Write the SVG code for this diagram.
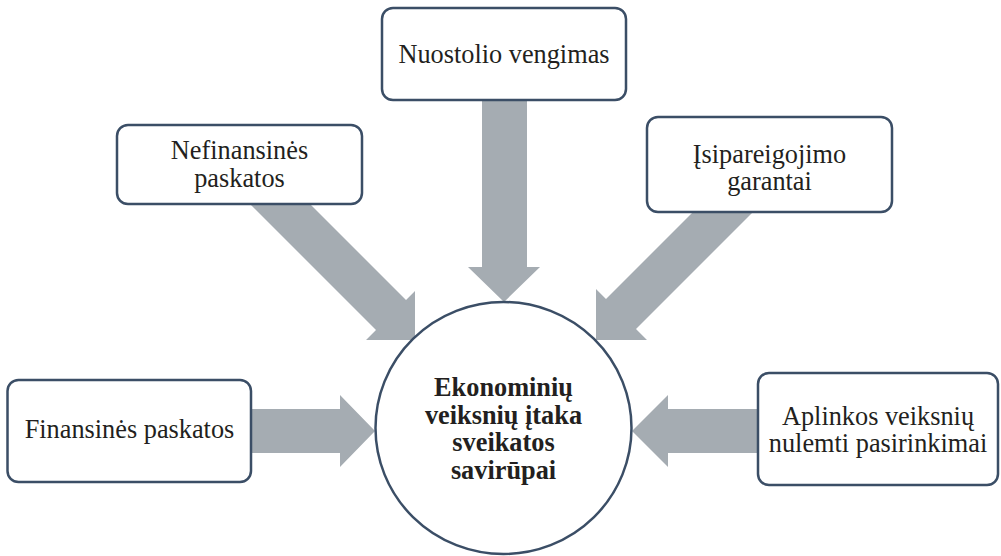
<svg xmlns="http://www.w3.org/2000/svg" width="1001" height="556" viewBox="0 0 1001 556">
  <style>
    .box { fill: #ffffff; stroke: #3b4e66; stroke-width: 2.5; }
    .hub { fill: #ffffff; stroke: #3b4e66; stroke-width: 2.5; }
    .arrow { fill: #a5acb2; stroke: none; }
    text { font-family: 'Liberation Serif', 'Times New Roman', Times, serif; font-size: 26.3px; fill: #231f20; text-anchor: middle; }
    .hubtxt { font-weight: bold; }
  </style>

  <!-- block arrows pointing into the central circle -->
  <g id="connectors">
    <polygon class="arrow" points="482,96 527,96 527,267 540,267 504,302 468,267 482,267"/>
    <polygon class="arrow" points="246,200 306,200 406,300 415,291 415,340 366,340 376,330"/>
    <polygon class="arrow" points="697,208 757,208 636,329 647,340 596,340 596,289 606,299"/>
    <polygon class="arrow" points="248,409 340,409 340,395 375,431 340,467 340,453 248,453"/>
    <polygon class="arrow" points="760,409 668,409 668,395 632,431 668,467 668,453 760,453"/>
  </g>

  <g id="hub">
    <ellipse class="hub" cx="503.5" cy="428" rx="128" ry="126"/>
    <text class="hubtxt" x="503.5" y="396" font-family="Liberation Serif, serif">Ekonominių</text>
    <text class="hubtxt" x="503.5" y="423.5" font-family="Liberation Serif, serif">veiksnių įtaka</text>
    <text class="hubtxt" x="503.5" y="451" font-family="Liberation Serif, serif">sveikatos</text>
    <text class="hubtxt" x="503.5" y="478.5" font-family="Liberation Serif, serif">savirūpai</text>
  </g>

  <g id="node-nuostolio">
    <rect class="box" x="382" y="8" width="244" height="92" rx="11"/>
    <text x="504" y="63" font-family="Liberation Serif, serif">Nuostolio vengimas</text>
  </g>

  <g id="node-nefinansines">
    <rect class="box" x="117" y="125" width="245" height="79" rx="11"/>
    <text x="239.5" y="159" font-family="Liberation Serif, serif">Nefinansinės</text>
    <text x="239.5" y="187" font-family="Liberation Serif, serif">paskatos</text>
  </g>

  <g id="node-isipareigojimo">
    <rect class="box" x="647" y="117" width="245" height="95" rx="11"/>
    <text x="769.5" y="163" font-family="Liberation Serif, serif">Įsipareigojimo</text>
    <text x="769.5" y="190" font-family="Liberation Serif, serif">garantai</text>
  </g>

  <g id="node-finansines">
    <rect class="box" x="7.5" y="380" width="243.5" height="102" rx="11"/>
    <text x="129.5" y="438" font-family="Liberation Serif, serif">Finansinės paskatos</text>
  </g>

  <g id="node-aplinkos">
    <rect class="box" x="758" y="373" width="240" height="112" rx="11"/>
    <text x="878" y="425" font-family="Liberation Serif, serif">Aplinkos veiksnių</text>
    <text x="878" y="452" font-family="Liberation Serif, serif">nulemti pasirinkimai</text>
  </g>
</svg>
